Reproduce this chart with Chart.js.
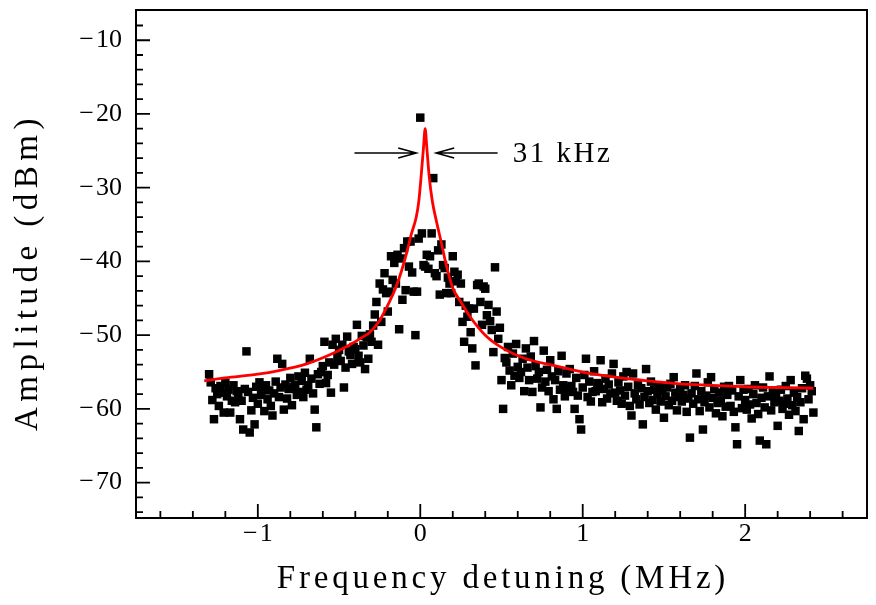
<!DOCTYPE html>
<html>
<head>
<meta charset="utf-8">
<script src="https://cdn.jsdelivr.net/npm/chart.js@4.4.1/dist/chart.umd.min.js"></script>
<style>
html,body{margin:0;padding:0;background:#fff;}
canvas{display:block;}
</style>
</head>
<body>
<canvas id="c" width="876" height="605"></canvas>
<script>
// ---- measured data (frequency detuning in MHz, amplitude in dBm) ----
const freqMHz = [
-1.30,-1.29,-1.28,-1.27,-1.26,-1.25,-1.24,-1.23,-1.22,-1.21,
-1.20,-1.19,-1.18,-1.17,-1.16,-1.15,-1.14,-1.13,-1.12,-1.11,
-1.10,-1.09,-1.08,-1.07,-1.06,-1.05,-1.04,-1.03,-1.02,-1.01,
-1.00,-0.99,-0.98,-0.97,-0.96,-0.95,-0.94,-0.93,-0.92,-0.91,
-0.90,-0.89,-0.88,-0.87,-0.86,-0.85,-0.84,-0.83,-0.82,-0.81,
-0.80,-0.79,-0.78,-0.77,-0.76,-0.75,-0.74,-0.73,-0.72,-0.71,
-0.70,-0.69,-0.68,-0.67,-0.66,-0.65,-0.64,-0.63,-0.62,-0.61,
-0.60,-0.59,-0.58,-0.57,-0.56,-0.55,-0.54,-0.53,-0.52,-0.51,
-0.50,-0.49,-0.48,-0.47,-0.46,-0.45,-0.44,-0.43,-0.42,-0.41,
-0.40,-0.39,-0.38,-0.37,-0.36,-0.35,-0.34,-0.33,-0.32,-0.31,
-0.30,-0.29,-0.28,-0.27,-0.26,-0.25,-0.24,-0.23,-0.22,-0.21,
-0.20,-0.19,-0.18,-0.17,-0.16,-0.15,-0.14,-0.13,-0.12,-0.11,
-0.10,-0.09,-0.08,-0.07,-0.06,-0.05,-0.04,-0.03,-0.02,-0.01,
0.00,0.01,0.02,0.03,0.04,0.05,0.06,0.07,0.08,0.09,
0.10,0.11,0.12,0.13,0.14,0.15,0.16,0.17,0.18,0.19,
0.20,0.21,0.22,0.23,0.24,0.25,0.26,0.27,0.28,0.29,
0.30,0.31,0.32,0.33,0.34,0.35,0.36,0.37,0.38,0.39,
0.40,0.41,0.42,0.43,0.44,0.45,0.46,0.47,0.48,0.49,
0.50,0.51,0.52,0.53,0.54,0.55,0.56,0.57,0.58,0.59,
0.60,0.61,0.62,0.63,0.64,0.65,0.66,0.67,0.68,0.69,
0.70,0.71,0.72,0.73,0.74,0.75,0.76,0.77,0.78,0.79,
0.80,0.81,0.82,0.83,0.84,0.85,0.86,0.87,0.88,0.89,
0.90,0.91,0.92,0.93,0.94,0.95,0.96,0.97,0.98,0.99,
1.00,1.01,1.02,1.03,1.04,1.05,1.06,1.07,1.08,1.09,
1.10,1.11,1.12,1.13,1.14,1.15,1.16,1.17,1.18,1.19,
1.20,1.21,1.22,1.23,1.24,1.25,1.26,1.27,1.28,1.29,
1.30,1.31,1.32,1.33,1.34,1.35,1.36,1.37,1.38,1.39,
1.40,1.41,1.42,1.43,1.44,1.45,1.46,1.47,1.48,1.49,
1.50,1.51,1.52,1.53,1.54,1.55,1.56,1.57,1.58,1.59,
1.60,1.61,1.62,1.63,1.64,1.65,1.66,1.67,1.68,1.69,
1.70,1.71,1.72,1.73,1.74,1.75,1.76,1.77,1.78,1.79,
1.80,1.81,1.82,1.83,1.84,1.85,1.86,1.87,1.88,1.89,
1.90,1.91,1.92,1.93,1.94,1.95,1.96,1.97,1.98,1.99,
2.00,2.01,2.02,2.03,2.04,2.05,2.06,2.07,2.08,2.09,
2.10,2.11,2.12,2.13,2.14,2.15,2.16,2.17,2.18,2.19,
2.20,2.21,2.22,2.23,2.24,2.25,2.26,2.27,2.28,2.29,
2.30,2.31,2.32,2.33,2.34,2.35,2.36,2.37,2.38,2.39,
2.40,2.41,2.42
];
const amplitudeDBm = [
-55.3,-56.4,-58.8,-61.4,-57.2,-58.0,-59.6,-56.9,-57.8,-60.5,
-56.5,-58.3,-57.4,-60.5,-58.9,-56.8,-59.1,-57.6,-58.2,-61.4,
-58.9,-62.8,-57.3,-52.2,-57.7,-63.2,-60.2,-58.5,-62.1,-57.0,
-59.3,-56.4,-58.1,-57.2,-60.3,-56.8,-58.7,-57.5,-59.6,-60.9,
-57.9,-56.3,-53.2,-58.4,-57.1,-53.9,-60.1,-56.7,-58.6,-57.3,
-55.8,-59.5,-57.0,-56.8,-58.1,-55.6,-57.7,-56.2,-58.4,-55.1,
-57.4,-56.8,-53.2,-55.9,-57.9,-60.1,-62.5,-55.3,-56.6,-55.0,
-54.2,-50.9,-56.5,-55.4,-53.7,-57.8,-51.3,-54.0,-50.5,-53.1,
-52.0,-53.5,-51.3,-57.1,-54.4,-50.2,-52.2,-52.7,-53.9,-51.6,
-51.9,-48.6,-52.8,-53.7,-50.1,-51.4,-54.6,-50.3,-53.2,-49.9,
-50.9,-48.7,-47.2,-45.5,-51.3,-43.0,-48.2,-43.8,-41.6,-44.3,
-46.8,-44.1,-39.3,-42.5,-40.2,-43.0,-39.1,-49.2,-39.6,-45.2,
-38.2,-43.9,-37.3,-40.7,-37.3,-41.5,-44.1,-50.0,-44.1,-36.9,
-20.5,-36.2,-40.5,-40.7,-39.1,-41.0,-39.3,-36.2,-28.7,-41.6,
-42.0,-38.5,-44.5,-37.7,-40.5,-40.9,-44.3,-42.2,-43.0,-44.3,
-39.3,-41.4,-42.7,-41.8,-45.5,-43.0,-48.2,-50.9,-46.0,-47.5,
-46.4,-49.6,-51.8,-46.4,-54.1,-43.2,-43.0,-45.5,-48.6,-43.4,
-43.7,-47.3,-45.9,-48.1,-49.3,-52.3,-40.8,-46.8,-50.5,-49.0,
-56.1,-60.0,-53.1,-53.7,-51.6,-54.8,-56.8,-52.5,-55.5,-51.2,
-54.3,-55.8,-55.0,-53.2,-57.6,-51.8,-54.4,-56.1,-52.9,-57.7,
-50.8,-54.2,-55.9,-55.0,-59.8,-57.1,-52.1,-56.3,-54.7,-57.6,
-53.4,-55.6,-58.7,-56.1,-60.0,-54.9,-57.4,-52.8,-56.8,-58.3,
-55.2,-57.3,-54.6,-56.9,-57.7,-60.0,-55.8,-58.2,-61.4,-62.8,
-57.1,-55.4,-53.2,-58.4,-56.3,-59.0,-57.7,-54.9,-57.6,-56.5,
-56.8,-53.4,-59.1,-57.3,-55.9,-58.6,-56.7,-57.9,-55.2,-53.9,
-57.8,-58.9,-56.4,-57.5,-59.3,-55.6,-58.2,-55.0,-57.0,-59.6,
-60.9,-55.2,-57.9,-58.7,-56.8,-59.4,-57.2,-62.1,-58.4,-54.6,
-57.6,-59.2,-56.3,-58.8,-57.4,-60.1,-58.0,-56.9,-59.0,-57.5,
-61.2,-58.3,-57.1,-59.5,-56.6,-58.9,-55.7,-57.8,-60.2,-58.4,
-57.2,-59.0,-58.1,-56.8,-60.4,-58.6,-63.9,-57.9,-59.3,-56.9,
-55.2,-58.7,-60.3,-57.6,-62.8,-59.1,-58.2,-56.4,-59.8,-55.7,
-58.5,-57.3,-60.6,-59.2,-57.8,-58.9,-61.0,-57.0,-59.7,-58.1,
-56.9,-59.6,-57.5,-60.4,-62.5,-64.8,-58.3,-56.1,-59.9,-57.4,
-58.8,-60.1,-57.3,-59.4,-61.3,-58.0,-56.8,-59.2,-60.7,-64.3,
-58.5,-57.1,-59.8,-64.8,-58.3,-55.6,-60.2,-57.6,-59.1,-58.4,
-62.3,-58.9,-57.4,-60.0,-59.3,-56.9,-58.6,-60.8,-56.1,-59.5,
-57.8,-60.3,-58.4,-63.0,-59.1,-57.2,-61.4,-55.5,-55.9,-58.7,
-56.8,-57.6,-60.5
];
// fitted curve
const fitFreqMHz = [-1.33,-1.2,-1.0,-0.87,-0.7,-0.56,-0.45,-0.35,-0.31,-0.25,-0.19,-0.15,-0.117,-0.08,-0.055,-0.025,-0.01,0.005,0.02,0.03,0.04,0.055,0.074,0.1,0.13,0.16,0.2,0.25,0.3,0.4,0.51,0.65,0.82,1.0,1.2,1.4,1.6,1.8,2.0,2.2,2.42];
const fitDBm     = [-56.2,-55.8,-55.3,-54.8,-53.9,-52.7,-51.5,-50.2,-49.6,-48.0,-45.5,-43.5,-41.4,-38.5,-36.3,-34.0,-32.0,-28.5,-24.5,-22.0,-24.5,-28.5,-31.8,-34.6,-37.5,-40.5,-43.6,-45.5,-47.3,-50.0,-51.8,-53.2,-54.1,-55.0,-55.7,-56.2,-56.6,-56.8,-57.0,-57.1,-57.2];

// axes
const xMajorTicks = [-1, 0, 1, 2];
const xMinorTicks = [-1.6,-1.4,-1.2,-0.8,-0.6,-0.4,-0.2,0.2,0.4,0.6,0.8,1.2,1.4,1.6,1.8,2.2,2.4,2.6];
const yMajorTicks = [-10,-20,-30,-40,-50,-60,-70];
const yMinorTicks = [-8,-12,-14,-16,-18,-22,-24,-26,-28,-32,-34,-36,-38,-42,-44,-46,-48,-52,-54,-56,-58,-62,-64,-66,-68,-72,-74];
const xTitle = 'Frequency detuning (MHz)';
const yTitle = 'Amplitude (dBm)';

// linewidth annotation
const widthLabel = '31 kHz';
const arrowLevel = -25.3;
const leftArrow = [-0.405, -0.025];
const rightArrow = [0.476, 0.098];
const labelX = 0.57;

const SERIF = '"Liberation Serif", "Times New Roman", serif';
const minus = v => (v < 0 ? '\u2212\u200a' + Math.abs(v) : String(v));

const decor = {
  id: 'decor',
  afterDatasetsDraw(chart) {
    const {ctx, chartArea: a, scales: {x, y}} = chart;
    ctx.save();
    ctx.strokeStyle = '#000';
    ctx.fillStyle = '#000';
    // frame
    ctx.lineWidth = 2;
    ctx.strokeRect(a.left, a.top, a.right - a.left, a.bottom - a.top);
    // inward ticks
    ctx.lineWidth = 1.8;
    ctx.beginPath();
    xMajorTicks.forEach(v => { const p = x.getPixelForValue(v); ctx.moveTo(p, a.bottom); ctx.lineTo(p, a.bottom - 14); });
    xMinorTicks.forEach(v => { const p = x.getPixelForValue(v); ctx.moveTo(p, a.bottom); ctx.lineTo(p, a.bottom - 7); });
    yMajorTicks.forEach(v => { const p = y.getPixelForValue(v); ctx.moveTo(a.left, p); ctx.lineTo(a.left + 14, p); });
    yMinorTicks.forEach(v => { const p = y.getPixelForValue(v); ctx.moveTo(a.left, p); ctx.lineTo(a.left + 7, p); });
    ctx.stroke();
    // arrows
    const ay = y.getPixelForValue(arrowLevel);
    ctx.lineWidth = 1.6;
    [leftArrow, rightArrow].forEach(([from, to]) => {
      const x0 = x.getPixelForValue(from), x1 = x.getPixelForValue(to);
      const dir = Math.sign(x1 - x0);
      ctx.beginPath();
      ctx.moveTo(x0, ay); ctx.lineTo(x1, ay);
      ctx.moveTo(x1 - dir * 18, ay - 5); ctx.lineTo(x1, ay); ctx.lineTo(x1 - dir * 18, ay + 5);
      ctx.stroke();
    });
    ctx.font = '29px ' + SERIF;
    ctx.textBaseline = 'alphabetic';
    ctx.textAlign = 'left';
    try { ctx.letterSpacing = '2.5px'; } catch (e) {}
    ctx.fillText(widthLabel, x.getPixelForValue(labelX), ay + 9);
    // axis titles
    ctx.font = '33px ' + SERIF;
    ctx.textAlign = 'center';
    ctx.textBaseline = 'alphabetic';
    try { ctx.letterSpacing = '3.8px'; } catch (e) {}
    ctx.fillText(xTitle, 503, 588);
    try { ctx.letterSpacing = '5.5px'; } catch (e) {}
    ctx.translate(37, 272);
    ctx.rotate(-Math.PI / 2);
    ctx.fillText(yTitle, 0, 0);
    ctx.restore();
  }
};

new Chart(document.getElementById('c'), {
  type: 'scatter',
  data: {
    datasets: [
      {
        label: 'fit',
        data: fitFreqMHz.map((f, i) => ({x: f, y: fitDBm[i]})),
        showLine: true,
        borderColor: '#ff0000',
        borderWidth: 2.8,
        pointRadius: 0,
        cubicInterpolationMode: 'monotone',
        fill: false,
        order: 0
      },
      {
        label: 'data',
        data: freqMHz.map((f, i) => ({x: f, y: amplitudeDBm[i]})),
        pointStyle: 'rect',
        pointRadius: 6,
        backgroundColor: '#000',
        borderColor: '#000',
        borderWidth: 0,
        order: 1
      }
    ]
  },
  options: {
    responsive: false,
    animation: false,
    devicePixelRatio: 1,
    layout: {padding: {top: 10, right: 9, left: 0, bottom: 0}},
    plugins: {legend: {display: false}, tooltip: {enabled: false}},
    scales: {
      x: {
        type: 'linear', min: -1.75, max: 2.75,
        grid: {display: false, drawTicks: false},
        border: {display: false},
        afterBuildTicks: s => { s.ticks = xMajorTicks.map(v => ({value: v})); },
        afterFit: s => { s.height = 87; s.paddingLeft = 0; s.paddingRight = 0; },
        ticks: {color: '#000', padding: 1, font: {family: SERIF, size: 26}, callback: v => minus(v)}
      },
      y: {
        type: 'linear', min: -74.8, max: -5.9,
        grid: {display: false, drawTicks: false},
        border: {display: false},
        afterBuildTicks: s => { s.ticks = yMajorTicks.map(v => ({value: v})); },
        afterFit: s => { s.width = 136; s.paddingTop = 0; s.paddingBottom = 0; },
        ticks: {color: '#000', padding: 14, font: {family: SERIF, size: 26}, callback: v => minus(v)}
      }
    }
  },
  plugins: [decor]
});
</script>
</body>
</html>
